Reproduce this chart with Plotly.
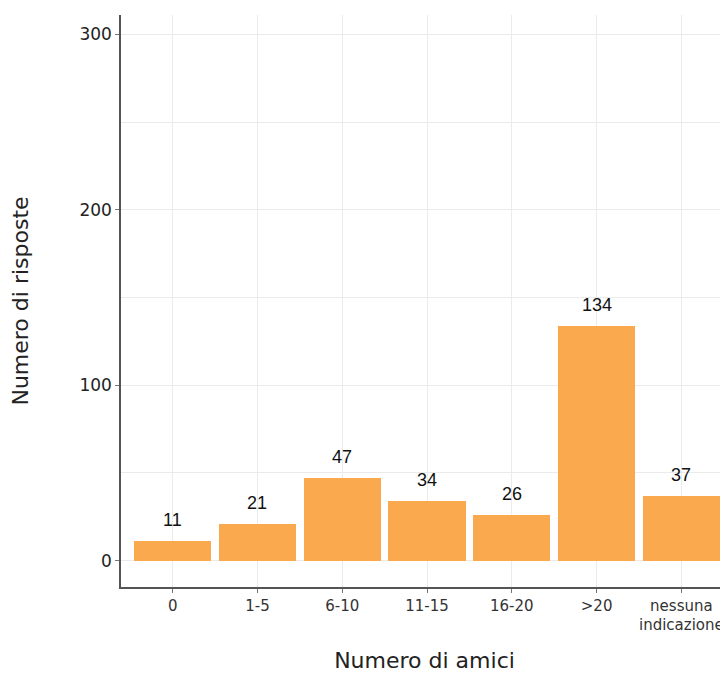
import plotly.graph_objects as go

categories = ["0", "1-5", "6-10", "11-15", "16-20", ">20", "nessuna<br>indicazione"]
values = [11, 21, 47, 34, 26, 134, 37]
y_ticks = [0, 100, 200, 300]

BAR_COLOR = "#FBA94E"
TICK_FONT = "DejaVu Sans"

fig = go.Figure()
fig.add_trace(go.Bar(
    x=list(range(len(categories))),
    y=values,
    width=0.91,
    marker=dict(color=BAR_COLOR, line=dict(width=0)),
    hoverinfo="x+y",
))

for i, v in enumerate(values):
    fig.add_annotation(
        x=i, y=v, text=str(v), showarrow=False,
        yanchor="bottom", yshift=9,
        font=dict(family="Liberation Sans, Arial", size=18, color="#111111"),
    )

# page body adds an 8px margin, so the figure is 8px smaller than the window
fig.update_layout(
    width=720, height=665,
    margin=dict(l=113, r=0, t=7, b=86, autoexpand=False),
    paper_bgcolor="white", plot_bgcolor="white",
    showlegend=False,
    bargap=0,
    xaxis=dict(
        tickmode="array",
        tickvals=list(range(len(categories))),
        ticktext=categories,
        range=[-0.61, 6.55],
        automargin=False,
        showgrid=True, gridcolor="#EBEBEB", gridwidth=1,
        showline=True, linecolor="#555555", linewidth=1.5,
        ticks="outside", ticklen=4, tickcolor="#777777",
        tickfont=dict(family=TICK_FONT, size=15, color="#333333"),
        zeroline=False,
        title=dict(text="Numero di amici", standoff=40,
                   font=dict(family=TICK_FONT, size=22, color="#222222")),
    ),
    yaxis=dict(
        range=[-15, 311],
        tickmode="array",
        tickvals=y_ticks,
        automargin=False,
        showgrid=True, gridcolor="#EBEBEB", gridwidth=1,
        minor=dict(dtick=50, showgrid=True, gridcolor="#EBEBEB", ticklen=0),
        showline=True, linecolor="#555555", linewidth=1.5,
        ticks="outside", ticklen=4, tickcolor="#777777",
        tickfont=dict(family=TICK_FONT, size=17, color="#222222"),
        zeroline=False,
        title=dict(text="Numero di risposte", standoff=47,
                   font=dict(family=TICK_FONT, size=22, color="#222222")),
    ),
)

fig.write_html("out.html")
